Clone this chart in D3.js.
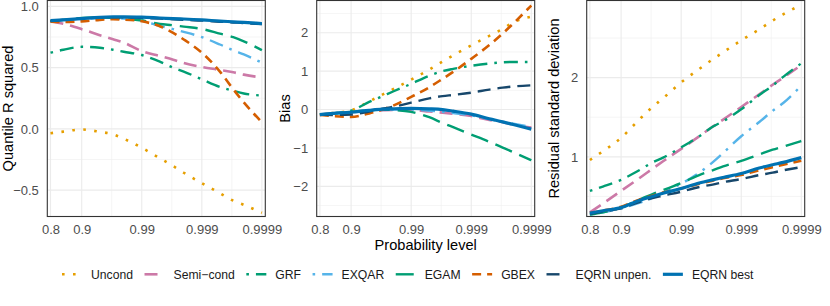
<!DOCTYPE html>
<html>
<head>
<meta charset="utf-8">
<script src="https://cdn.jsdelivr.net/npm/d3@7"></script>
<style>
  body { margin: 0; background: #fff; }
  text { font-family: "Liberation Sans", Arial, sans-serif; }
</style>
</head>
<body>
<div id="chart"></div>
<script>
const levels = [0.8, 0.85, 0.9, 0.95, 0.97, 0.98, 0.99, 0.995, 0.997, 0.998, 0.999, 0.9995, 0.9997, 0.9998, 0.9999];
const xTicks = [0.8, 0.9, 0.99, 0.999, 0.9999];
const xTickLabels = ["0.8", "0.9", "0.99", "0.999", "0.9999"];

const methods = ["Uncond", "Semi\u2212cond", "GRF", "EXQAR", "EGAM", "GBEX", "EQRN unpen.", "EQRN best"];
const colours = ["#E69F00", "#CC79A7", "#009E73", "#56B4E9", "#009E73", "#D55E00", "#17476B", "#0072B2"];
const dashes  = ["2.6,8.4", "13,7", "2.6,7,14,7", "2.6,7,14,7", "18,8", "9,6", "13,7", null];
const widths  = [2.6, 2.6, 2.4, 2.4, 2.4, 2.6, 2.4, 3.2];

// Quantile R squared
const r2Uncond    = [-0.035, -0.022, -0.005, -0.024, -0.045, -0.08, -0.154, -0.24, -0.303, -0.358, -0.443, -0.525, -0.586, -0.62, -0.685];
const r2SemiCond  = [0.878, 0.857, 0.814, 0.765, 0.732, 0.705, 0.635, 0.595, 0.565, 0.538, 0.505, 0.481, 0.462, 0.443, 0.419];
const r2GRF       = [0.622, 0.646, 0.670, 0.662, 0.646, 0.630, 0.603, 0.549, 0.500, 0.468, 0.405, 0.343, 0.311, 0.289, 0.272];
const r2EXQAR     = [0.88, 0.89, 0.90, 0.905, 0.905, 0.90, 0.885, 0.84, 0.814, 0.792, 0.749, 0.689, 0.641, 0.608, 0.54];
const r2EGAM      = [0.88, 0.89, 0.905, 0.91, 0.905, 0.90, 0.885, 0.857, 0.846, 0.835, 0.816, 0.778, 0.749, 0.715, 0.643];
const r2GBEX      = [0.875, 0.872, 0.878, 0.89, 0.895, 0.892, 0.878, 0.838, 0.784, 0.73, 0.622, 0.468, 0.324, 0.216, 0.055];
const r2EQRNunpen = [0.882, 0.89, 0.90, 0.908, 0.91, 0.91, 0.906, 0.90, 0.895, 0.89, 0.884, 0.875, 0.869, 0.864, 0.855];
const r2EQRNbest  = [0.884, 0.89, 0.90, 0.91, 0.914, 0.915, 0.912, 0.905, 0.90, 0.897, 0.89, 0.88, 0.874, 0.869, 0.86];

// Bias
const biasUncond    = [-0.13, -0.09, -0.02, 0.21, 0.39, 0.53, 0.78, 1.04, 1.25, 1.41, 1.67, 1.92, 2.1, 2.27, 2.42];
const biasSemiCond  = [-0.14, -0.1, -0.07, -0.04, -0.02, -0.01, -0.01, -0.05, -0.08, -0.11, -0.17, -0.27, -0.33, -0.39, -0.47];
const biasGRF       = [-0.13, -0.1, -0.03, 0.2, 0.35, 0.47, 0.67, 0.88, 1.0, 1.06, 1.14, 1.2, 1.23, 1.24, 1.24];
const biasEXQAR     = [-0.13, -0.1, -0.07, -0.03, -0.01, 0.0, 0.0, -0.03, -0.06, -0.09, -0.15, -0.25, -0.32, -0.37, -0.45];
const biasEGAM      = [-0.13, -0.1, -0.06, -0.02, 0.0, -0.01, -0.06, -0.2, -0.35, -0.46, -0.65, -0.84, -0.99, -1.11, -1.32];
const biasGBEX      = [-0.14, -0.17, -0.19, -0.1, 0.0, 0.1, 0.33, 0.58, 0.8, 0.98, 1.32, 1.68, 1.98, 2.24, 2.71];
const biasEQRNunpen = [-0.13, -0.14, -0.13, -0.05, 0.02, 0.07, 0.18, 0.29, 0.35, 0.38, 0.44, 0.52, 0.57, 0.6, 0.63];
const biasEQRNbest  = [-0.13, -0.1, -0.07, -0.02, 0.01, 0.02, 0.03, 0.02, 0.0, -0.04, -0.12, -0.24, -0.32, -0.39, -0.51];

// Residual standard deviation
const rsdUncond    = [0.96, 1.07, 1.24, 1.47, 1.63, 1.74, 1.94, 2.11, 2.23, 2.32, 2.47, 2.61, 2.72, 2.8, 2.92];
const rsdSemiCond  = [0.30, 0.41, 0.57, 0.73, 0.85, 0.945, 1.10, 1.26, 1.38, 1.47, 1.63, 1.79, 1.91, 2.0, 2.16];
const rsdGRF       = [0.57, 0.625, 0.71, 0.83, 0.93, 0.99, 1.12, 1.26, 1.38, 1.45, 1.6, 1.78, 1.9, 2.01, 2.18];
const rsdEXQAR     = [0.27, 0.3, 0.35, 0.42, 0.48, 0.55, 0.66, 0.8, 0.93, 1.05, 1.26, 1.44, 1.58, 1.68, 1.9];
const rsdEGAM      = [0.27, 0.3, 0.36, 0.46, 0.53, 0.58, 0.67, 0.77, 0.83, 0.88, 0.95, 1.03, 1.09, 1.13, 1.2];
const rsdGBEX      = [0.29, 0.32, 0.37, 0.46, 0.51, 0.55, 0.6, 0.66, 0.7, 0.73, 0.77, 0.83, 0.87, 0.9, 0.95];
const rsdEQRNunpen = [0.28, 0.31, 0.35, 0.43, 0.48, 0.51, 0.56, 0.62, 0.65, 0.68, 0.72, 0.77, 0.8, 0.83, 0.87];
const rsdEQRNbest  = [0.29, 0.32, 0.36, 0.45, 0.5, 0.54, 0.6, 0.67, 0.71, 0.74, 0.79, 0.86, 0.9, 0.93, 0.99];

const r2Series   = [r2Uncond, r2SemiCond, r2GRF, r2EXQAR, r2EGAM, r2GBEX, r2EQRNunpen, r2EQRNbest];
const biasSeries = [biasUncond, biasSemiCond, biasGRF, biasEXQAR, biasEGAM, biasGBEX, biasEQRNunpen, biasEQRNbest];
const rsdSeries  = [rsdUncond, rsdSemiCond, rsdGRF, rsdEXQAR, rsdEGAM, rsdGBEX, rsdEQRNunpen, rsdEQRNbest];

const W = 830, H = 306;
const panelLeft = [47.3, 316.7, 586.7], panelW = 218,
      panelTop = 0.5, panelBottom = 216.5;

const svg = d3.select("#chart").append("svg")
    .attr("width", W)
    .attr("height", H);

// -log10(1 - p)
const lt = p => -Math.log10(1 - p);
const xMinor = [1.5, 2.5, 3.5].map(k => 1 - Math.pow(10, -k));

const panels = [
  { series: r2Series, domain: [-0.715, 1.048], ticks: [-0.5, 0, 0.5, 1], minor: [-0.25, 0.25, 0.75],
    fmt: d3.format(".1f"), title: "Quantile R squared", titleDx: 39.5 },
  { series: biasSeries, domain: [-2.785, 2.84], ticks: [-2, -1, 0, 1, 2], minor: [-2.5, -1.5, -0.5, 0.5, 1.5, 2.5],
    fmt: d3.format(".0f"), title: "Bias", titleDx: 31.7 },
  { series: rsdSeries, domain: [0.247, 2.974], ticks: [1, 2], minor: [0.5, 1.5, 2.5],
    fmt: d3.format(".0f"), title: "Residual standard deviation", titleDx: 32.7 }
];

panels.forEach((pn, i) => {
  const left = panelLeft[i];
  const g = svg.append("g");

  const x = d3.scaleLinear()
      .domain([lt(0.8), lt(0.9), lt(0.9999)])
      .range([left + 3.2, left + 34.4, left + 214.6]);
  const y = d3.scaleLinear().domain(pn.domain).range([panelBottom, panelTop]);

  // grid
  g.selectAll(".ymin").data(pn.minor).join("line")
    .attr("x1", left).attr("x2", left + panelW)
    .attr("y1", d => y(d)).attr("y2", d => y(d))
    .attr("stroke", "#EEEEEE").attr("stroke-width", 0.6);
  g.selectAll(".xmin").data(xMinor).join("line")
    .attr("x1", d => x(lt(d))).attr("x2", d => x(lt(d)))
    .attr("y1", panelTop).attr("y2", panelBottom)
    .attr("stroke", "#EEEEEE").attr("stroke-width", 0.6);
  g.selectAll(".ymaj").data(pn.ticks).join("line")
    .attr("x1", left).attr("x2", left + panelW)
    .attr("y1", d => y(d)).attr("y2", d => y(d))
    .attr("stroke", "#EBEBEB").attr("stroke-width", 1.1);
  g.selectAll(".xmaj").data(xTicks).join("line")
    .attr("x1", d => x(lt(d))).attr("x2", d => x(lt(d)))
    .attr("y1", panelTop).attr("y2", panelBottom)
    .attr("stroke", "#EBEBEB").attr("stroke-width", 1.1);

  // curves
  const clipId = "clip" + i;
  svg.append("clipPath").attr("id", clipId).append("rect")
    .attr("x", left).attr("y", panelTop).attr("width", panelW).attr("height", panelBottom - panelTop);

  const line = d3.line()
      .x((d, j) => x(lt(levels[j])))
      .y(d => y(d))
      .curve(d3.curveMonotoneX);

  pn.series.forEach((s, k) => {
    g.append("path")
      .datum(s)
      .attr("clip-path", "url(#" + clipId + ")")
      .attr("fill", "none")
      .attr("stroke", colours[k])
      .attr("stroke-width", widths[k])
      .attr("stroke-dasharray", dashes[k])
      .attr("d", line);
  });

  // border
  g.append("rect")
    .attr("x", left).attr("y", panelTop)
    .attr("width", panelW).attr("height", panelBottom - panelTop)
    .attr("fill", "none").attr("stroke", "#333333").attr("stroke-width", 1.1);

  // axes
  const xAxis = d3.axisBottom(x)
      .tickValues(xTicks.map(lt))
      .tickFormat((d, j) => xTickLabels[j])
      .tickSize(0).tickPadding(8.3);
  const gx = svg.append("g")
    .attr("transform", "translate(0," + panelBottom + ")")
    .call(xAxis);
  gx.select(".domain").remove();
  gx.selectAll("text").attr("fill", "#4D4D4D").style("font-size", "13px");

  const yAxis = d3.axisLeft(y).tickValues(pn.ticks).tickFormat(pn.fmt)
      .tickSize(0).tickPadding(8.5);
  const gy = svg.append("g")
    .attr("transform", "translate(" + left + ",0)")
    .call(yAxis);
  gy.select(".domain").remove();
  gy.selectAll("text").attr("fill", "#4D4D4D").style("font-size", "13px");

  svg.append("text")
    .attr("transform", "translate(" + (left - pn.titleDx) + "," + ((panelTop + panelBottom) / 2) + ") rotate(-90)")
    .attr("text-anchor", "middle")
    .attr("dy", "0.35em")
    .style("font-size", "14.6px")
    .attr("fill", "#000")
    .text(pn.title);
});

svg.append("text")
  .attr("x", panelLeft[1] + panelW / 2)
  .attr("y", 250)
  .attr("text-anchor", "middle")
  .style("font-size", "14.6px")
  .text("Probability level");

// legend
const legend = svg.append("g");
let lx = 62;
const ly = 274.3;
methods.forEach((m, k) => {
  legend.append("line")
    .attr("x1", lx).attr("x2", lx + 20)
    .attr("y1", ly).attr("y2", ly)
    .attr("stroke", colours[k])
    .attr("stroke-width", widths[k])
    .attr("stroke-dasharray", dashes[k]);
  const t = legend.append("text")
    .attr("x", lx + 29).attr("y", ly)
    .attr("dy", "0.35em")
    .style("font-size", "12.2px")
    .attr("fill", "#1A1A1A")
    .text(m);
  lx += 29 + t.node().getComputedTextLength() + 11.5;
});
</script>
</body>
</html>
